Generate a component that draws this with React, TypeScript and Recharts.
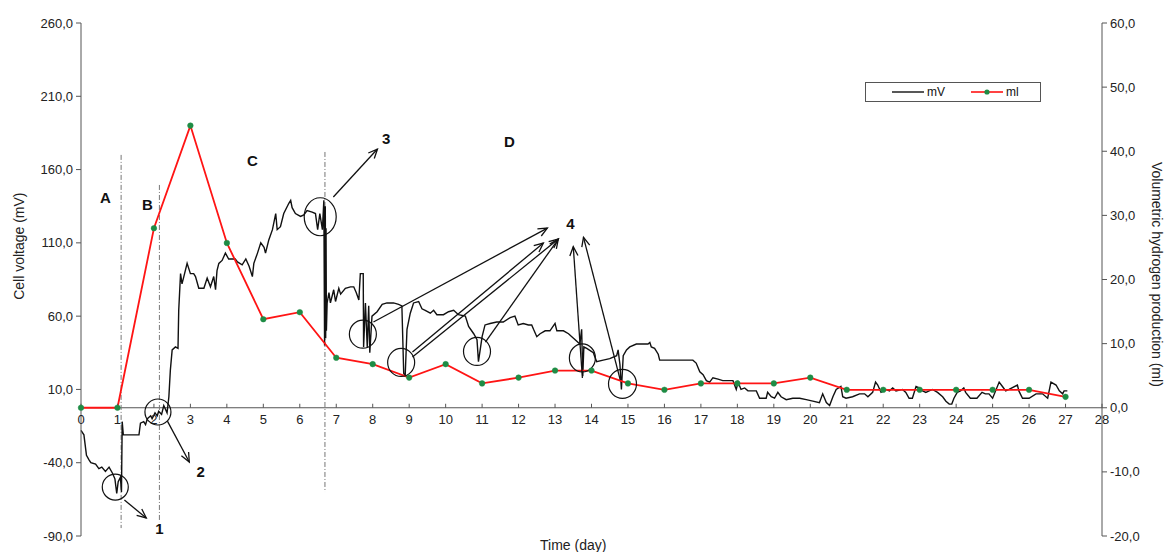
import React from 'react';
import { ComposedChart, Line, XAxis, YAxis, ReferenceLine, ReferenceDot, Legend } from 'recharts';

const FONT = '"Liberation Sans", Arial, sans-serif';

// ---------- data ----------
const dayTicks = [0, 1, 2, 3, 4, 5, 6, 7, 8, 9, 10, 11, 12, 13, 14, 15, 16, 17, 18, 19, 20, 21, 22, 23, 24, 25, 26, 27, 28];
const leftTicks = [-90, -40, 10, 60, 110, 160, 210, 260];
const rightTicks = [-20, -10, 0, 10, 20, 30, 40, 50, 60];

const mlDays = [0, 1, 2, 3, 4, 5, 6, 7, 8, 9, 10, 11, 12, 13, 14, 15, 16, 17, 18, 19, 20, 21, 22, 23, 24, 25, 26, 27];
const mlValues = [0, 0, 28, 44, 25.7, 13.8, 14.9, 7.8, 6.8, 4.7, 6.8, 3.8, 4.7, 5.8, 5.8, 3.8, 2.8, 3.8, 3.8, 3.8, 4.7, 2.8, 2.8, 2.8, 2.8, 2.8, 2.8, 1.7];

const mvTime = [
  0.0, 0.08, 0.15, 0.22, 0.27, 0.4, 0.49, 0.57, 0.67, 0.77, 0.86, 0.93, 0.98, 1.02, 1.08, 1.11, 1.13, 1.16, 1.59, 1.63,
  1.72, 1.77, 1.82, 1.91, 1.95, 2.03, 2.09, 2.13, 2.21, 2.27, 2.36, 2.41, 2.45, 2.5, 2.59, 2.66, 2.68, 2.73, 2.77, 2.82,
  2.91, 3.0, 3.09, 3.14, 3.23, 3.37, 3.46, 3.55, 3.64, 3.69, 3.73, 3.78, 3.87, 3.96, 4.05, 4.23, 4.29, 4.42, 4.52, 4.61,
  4.7, 4.74, 4.84, 4.93, 5.02, 5.06, 5.15, 5.25, 5.34, 5.38, 5.47, 5.56, 5.7, 5.75, 5.79, 5.88, 6.02, 6.11, 6.2, 6.34,
  6.43, 6.49, 6.55, 6.62, 6.66, 6.68, 6.7, 6.71, 6.72, 6.73, 6.75, 6.8, 6.84, 6.93, 6.98, 7.07, 7.12, 7.25, 7.39, 7.48,
  7.55, 7.62, 7.66, 7.74, 7.75, 7.8, 7.85, 7.89, 7.92, 7.98, 8.12, 8.26, 8.39, 8.57, 8.71, 8.8, 8.85, 8.89, 8.94, 9.03,
  9.12, 9.26, 9.35, 9.44, 9.58, 9.67, 9.76, 9.94, 10.08, 10.22, 10.35, 10.54, 10.63, 10.77, 10.86, 10.9, 11.0, 11.08, 11.22, 11.4,
  11.58, 11.77, 11.9, 11.99, 12.13, 12.27, 12.36, 12.41, 12.5, 12.59, 12.73, 12.86, 13.0, 13.05, 13.23, 13.37, 13.46, 13.59, 13.68, 13.73,
  13.76, 13.79, 13.87, 14.05, 14.14, 14.32, 14.5, 14.69, 14.73, 14.78, 14.82, 14.87, 14.96, 15.05, 15.23, 15.55, 15.6, 15.64, 15.73, 15.83,
  15.87, 16.78, 16.87, 16.97, 17.06, 17.15, 17.24, 17.33, 17.47, 17.6, 17.88, 17.97, 18.02, 18.1, 18.2, 18.29, 18.52, 18.61, 18.79, 18.83,
  18.93, 19.02, 19.11, 19.2, 19.34, 19.52, 19.71, 19.89, 20.07, 20.25, 20.34, 20.44, 20.53, 20.62, 20.71, 20.84, 20.89, 20.98, 21.16, 21.35,
  21.49, 21.58, 21.71, 21.79, 21.85, 21.94, 22.08, 22.17, 22.26, 22.35, 22.53, 22.62, 22.71, 22.8, 22.9, 22.99, 23.08, 23.17, 23.26, 23.35,
  23.49, 23.63, 23.72, 23.81, 23.88, 23.94, 24.03, 24.12, 24.21, 24.26, 24.39, 24.57, 24.71, 24.8, 24.9, 25.0, 25.18, 25.27, 25.36, 25.45,
  25.68, 25.72, 25.82, 26.0, 26.19, 26.37, 26.51, 26.6, 26.74, 26.83, 26.92, 26.96, 27.05,
];
const mvValue = [
  -18, -21, -35, -38, -40, -41, -44, -43, -46, -43, -47, -51, -61, -53, -50, -60, -12, -21, -21, -13,
  -12, -14, -10, -8, -10, -6, -8, -5, -7, -1, -6, 5, 23, 37, 39, 38, 64, 89, 82, 87,
  96, 89, 89, 87, 79, 79, 86, 80, 87, 78, 91, 96, 98, 103, 99, 99, 97, 95, 99, 94,
  87, 96, 103, 110, 107, 103, 112, 119, 130, 119, 121, 130, 137, 139, 134, 130, 128, 129, 132, 131,
  130, 119, 130, 119, 139, 40, 135, 45, 120, 50, 69, 76, 69, 78, 70, 79, 75, 79, 80, 80,
  76, 71, 89, 89, 39, 69, 39, 67, 35, 60, 63, 68, 69, 69, 68, 67, 21, 19, 51, 62,
  69, 70, 65, 64, 62, 64, 61, 61, 63, 64, 61, 60, 53, 48, 44, 29, 46, 54, 55, 56,
  56, 59, 60, 54, 55, 54, 54, 51, 46, 48, 50, 50, 55, 50, 50, 48, 46, 43, 41, 51,
  19, 39, 38, 35, 29, 30, 31, 33, 37, 27, 10, 33, 37, 39, 41, 41, 42, 39, 38, 34,
  30, 30, 28, 22, 20, 16, 15, 18, 17, 16, 16, 10, 15, 10, 11, 9, 9, 4, 4, 8,
  5, 4, 8, 5, 3, 4, 4, 3, 2, 1, 7, 1, -1, 5, 10, 12, 5, 4, 5, 7,
  7, 5, 8, 15, 13, 8, 10, 9, 11, 9, 10, 8, 4, 4, 12, 11, 9, 8, 9, 10,
  8, 5, 2, 0, 0, 4, 8, 9, 11, 8, 4, 4, 8, 7, 7, 4, 15, 12, 9, 10,
  13, 9, 4, 4, 7, 7, 4, 15, 13, 9, 7, 9, 9,
];

// annotations (in data units: day, mV)
const phaseLabels = [
  { t: 0.67, v: 141, text: 'A' },
  { t: 1.82, v: 136, text: 'B' },
  { t: 4.7, v: 166, text: 'C' },
  { t: 11.75, v: 179, text: 'D' },
  { t: 2.15, v: -85, text: '1' },
  { t: 3.28, v: -46, text: '2' },
  { t: 8.37, v: 181, text: '3' },
  { t: 13.42, v: 123, text: '4' },
];
const circles = [
  { t: 0.94, v: -56.6, rx: 13, ry: 13 },
  { t: 2.11, v: -5.4, rx: 13, ry: 13 },
  { t: 6.56, v: 127.8, rx: 16, ry: 19 },
  { t: 7.73, v: 47.7, rx: 13.5, ry: 14 },
  { t: 8.78, v: 28.4, rx: 13.5, ry: 14 },
  { t: 10.86, v: 35.9, rx: 13.5, ry: 14 },
  { t: 13.75, v: 31.5, rx: 13, ry: 14 },
  { t: 14.85, v: 13.8, rx: 14, ry: 14.5 },
];
const arrows = [
  { t1: 1.19, v1: -65.5, t2: 1.79, v2: -77.7 },
  { t1: 2.37, v1: -11.6, t2: 2.97, v2: -39.5 },
  { t1: 6.92, v1: 141.3, t2: 8.13, v2: 174 },
  { t1: 8.02, v1: 56, t2: 12.79, v2: 120.1 },
  { t1: 9.09, v1: 35.5, t2: 12.68, v2: 109.9 },
  { t1: 9.09, v1: 32.1, t2: 13.09, v2: 112.6 },
  { t1: 11.09, v1: 42.3, t2: 13.09, v2: 112.6 },
  { t1: 13.75, v1: 17.8, t2: 13.5, v2: 107.4 },
  { t1: 14.79, v1: 16.4, t2: 13.78, v2: 113.8 },
];
const phaseLines = [
  { t: 1.1, v1: 170, v2: -84.6 },
  { t: 2.15, v1: 149.5, v2: -80.5 },
  { t: 6.69, v1: 172, v2: -60 },
];

const mvData = mvTime.map((t, i) => ({ t, mv: mvValue[i] }));
const mlData = mlDays.map((t, i) => ({ t, ml: mlValues[i] }));

const fmt = (v: number) => v.toFixed(1).replace('.', ',');

// ---------- shapes ----------
const ArrowShape = (p: any) => {
  const { x1, y1, x2, y2 } = p;
  const a = Math.atan2(y2 - y1, x2 - x1);
  const L = 10;
  const w = 0.42;
  const ax = x2 - L * Math.cos(a - w);
  const ay = y2 - L * Math.sin(a - w);
  const bx = x2 - L * Math.cos(a + w);
  const by = y2 - L * Math.sin(a + w);
  return (
    <g>
      <line x1={x1} y1={y1} x2={x2} y2={y2} stroke="#111" strokeWidth={1.3} />
      <polyline points={`${ax},${ay} ${x2},${y2} ${bx},${by}`} fill="none" stroke="#111" strokeWidth={1.3} />
    </g>
  );
};

const renderLegend = (props: any) => {
  const payload = props.payload || [];
  return (
    <div
      style={{
        border: '1px solid #555',
        boxSizing: 'border-box',
        width: 176,
        height: 20,
        display: 'flex',
        alignItems: 'center',
        fontFamily: FONT,
        fontSize: 12,
        color: '#111',
        background: '#fff',
      }}
    >
      {payload.map((e: any, i: number) => (
        <div key={i} style={{ display: 'flex', alignItems: 'center', marginLeft: 26 }}>
          <svg width={32} height={10}>
            <line x1={0} y1={5} x2={32} y2={5} stroke={e.color} strokeWidth={e.dataKey === 'ml' ? 1.6 : 1.4} />
            {e.dataKey === 'ml' ? <circle cx={16} cy={5} r={2.6} fill="#1e8c45" /> : null}
          </svg>
          <span style={{ marginLeft: 3 }}>{e.value}</span>
        </div>
      ))}
    </div>
  );
};

export default function App() {
  return (
    <div style={{ position: 'absolute', left: 0, top: 0, background: '#fff' }}>
      <ComposedChart width={1164} height={552} margin={{ top: 23, right: 10, bottom: 16, left: 20 }}>
        <XAxis dataKey="t" type="number" domain={[0, 28]} ticks={dayTicks} hide />
        <YAxis
          yAxisId="left"
          domain={[-90, 260]}
          ticks={leftTicks}
          interval={0}
          width={61}
          tickSize={5}
          tickMargin={3}
          tickFormatter={fmt}
          tick={{ fontSize: 13, fill: '#222', fontFamily: FONT }}
          axisLine={{ stroke: '#555' }}
          tickLine={{ stroke: '#555' }}
          label={(props: any) => {
            const vb = props.viewBox;
            const cx = vb.x - 1;
            const cy = vb.y + vb.height * 0.435;
            return (
              <text
                x={cx}
                y={cy}
                transform={`rotate(-90, ${cx}, ${cy})`}
                textAnchor="middle"
                dominantBaseline="central"
                fontSize={14}
                fontFamily={FONT}
                fill="#222"
              >
                Cell voltage (mV)
              </text>
            );
          }}
        />
        <YAxis
          yAxisId="right"
          orientation="right"
          domain={[-20, 60]}
          ticks={rightTicks}
          interval={0}
          width={52}
          tickSize={5}
          tickMargin={3}
          tickFormatter={fmt}
          tick={{ fontSize: 13, fill: '#222', fontFamily: FONT }}
          axisLine={{ stroke: '#555' }}
          tickLine={{ stroke: '#555' }}
          label={(props: any) => {
            const vb = props.viewBox;
            const cx = vb.x + vb.width + 3;
            const cy = vb.y + vb.height * 0.49;
            return (
              <text
                x={cx}
                y={cy}
                transform={`rotate(90, ${cx}, ${cy})`}
                textAnchor="middle"
                dominantBaseline="central"
                fontSize={14}
                fontFamily={FONT}
                fill="#222"
              >
                Volumetric hydrogen production (ml)
              </text>
            );
          }}
        />

        {/* x axis drawn at the zero of the right axis */}
        <ReferenceLine yAxisId="right" y={0} stroke="#555" strokeWidth={1} />
        {dayTicks.map((d) => (
          <ReferenceDot
            key={`xt${d}`}
            yAxisId="right"
            x={d}
            y={0}
            r={0}
            shape={(p: any) => (
              <g>
                <line x1={p.cx} y1={p.cy} x2={p.cx} y2={p.cy - 4} stroke="#555" />
                <text x={p.cx} y={p.cy + 16} textAnchor="middle" fontSize={13} fontFamily={FONT} fill="#222">
                  {d}
                </text>
              </g>
            )}
          />
        ))}
        <ReferenceDot
          yAxisId="right"
          x={13.5}
          y={-20}
          r={0}
          shape={(p: any) => (
            <text x={p.cx} y={p.cy + 14} textAnchor="middle" fontSize={14} fontFamily={FONT} fill="#222">
              Time (day)
            </text>
          )}
        />

        {phaseLines.map((l, i) => (
          <ReferenceLine
            key={`pl${i}`}
            yAxisId="left"
            segment={[{ x: l.t, y: l.v1 }, { x: l.t, y: l.v2 }]}
            stroke="#777"
            strokeWidth={1}
            strokeDasharray="5 2 1 2"
          />
        ))}

        <Line
          yAxisId="left"
          data={mvData}
          dataKey="mv"
          name="mV"
          type="linear"
          stroke="#111"
          strokeWidth={1.4}
          dot={false}
          isAnimationActive={false}
        />
        <Line
          yAxisId="right"
          data={mlData}
          dataKey="ml"
          name="ml"
          type="linear"
          stroke="#ff1414"
          strokeWidth={1.8}
          dot={{ r: 2.8, fill: '#1e8c45', stroke: '#1e8c45', strokeWidth: 0.5 }}
          isAnimationActive={false}
        />

        {circles.map((c, i) => (
          <ReferenceDot
            key={`c${i}`}
            yAxisId="left"
            x={c.t}
            y={c.v}
            r={c.rx}
            shape={(p: any) => (
              <ellipse cx={p.cx} cy={p.cy} rx={c.rx} ry={c.ry} fill="none" stroke="#111" strokeWidth={1.2} />
            )}
          />
        ))}
        {arrows.map((a, i) => (
          <ReferenceLine
            key={`a${i}`}
            yAxisId="left"
            segment={[{ x: a.t1, y: a.v1 }, { x: a.t2, y: a.v2 }]}
            shape={ArrowShape}
          />
        ))}
        {phaseLabels.map((l, i) => (
          <ReferenceDot
            key={`l${i}`}
            yAxisId="left"
            x={l.t}
            y={l.v}
            r={0}
            shape={(p: any) => (
              <text
                x={p.cx}
                y={p.cy}
                textAnchor="middle"
                dominantBaseline="central"
                fontSize={15}
                fontWeight="bold"
                fontFamily={FONT}
                fill="#111"
              >
                {l.text}
              </text>
            )}
          />
        ))}

        <Legend
          layout="horizontal"
          verticalAlign="middle"
          align="center"
          content={renderLegend}
          wrapperStyle={{ left: 865, top: 82, width: 176, height: 20, bottom: 'auto', right: 'auto' }}
        />
      </ComposedChart>
    </div>
  );
}
